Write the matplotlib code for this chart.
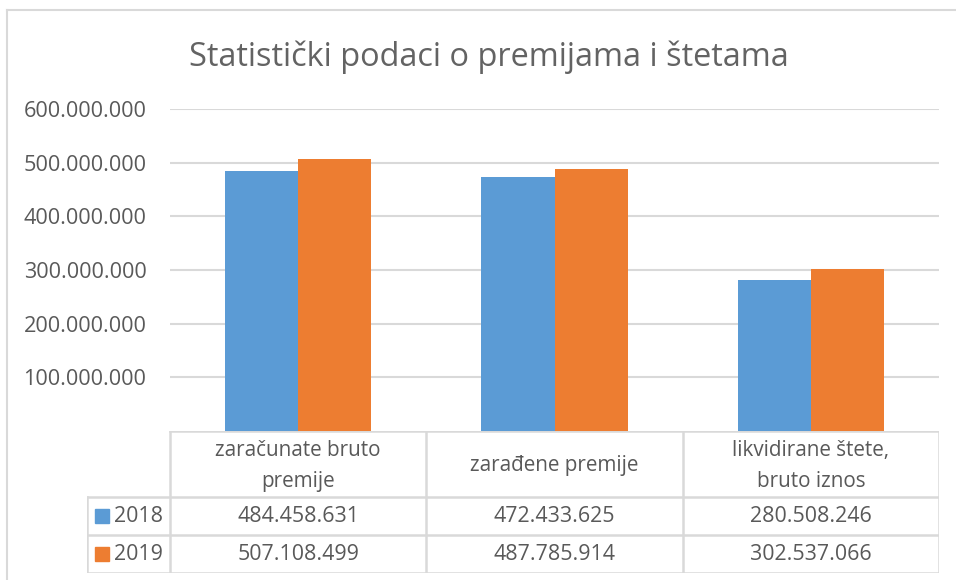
import matplotlib.pyplot as plt
from matplotlib.patches import Rectangle

plt.rcParams['font.family'] = ['Open Sans', 'DejaVu Sans']

kategorije = ["zaračunate bruto\npremije", "zarađene premije", "likvidirane štete,\nbruto iznos"]
godine = ["2018", "2019"]
v2018 = [484458631, 472433625, 280508246]
v2019 = [507108499, 487785914, 302537066]
boje = ["#5B9BD5", "#ED7D31"]
yticks = [100000000, 200000000, 300000000, 400000000, 500000000, 600000000]

W, H = 956, 580
siva = "#595959"
linija = "#D9D9D9"

def fmt(v):
    return "{:,}".format(v).replace(",", ".")

fig = plt.figure(figsize=(W/100, H/100), dpi=100)

# okvir grafikona
fig.add_artist(plt.Line2D([7/W, 7/W], [0, 1 - 10/H], color=linija, lw=1.5))
fig.add_artist(plt.Line2D([7/W, 1], [1 - 10/H, 1 - 10/H], color=linija, lw=1.5))

fig.text(489/W, 1 - 57/H, "Statistički podaci o premijama i štetama",
         ha="center", va="center", fontsize=23.4, color="#636363")

x0, x1 = 170, 939
ytop, ybot = 109, 431
ax = fig.add_axes([x0/W, 1 - ybot/H, (x1 - x0)/W, (ybot - ytop)/H])
n = len(kategorije)
sir = 0.286
for k in range(n):
    ax.bar(k - sir/2, v2018[k], width=sir, color=boje[0], zorder=2)
    ax.bar(k + sir/2, v2019[k], width=sir, color=boje[1], zorder=2)
ax.set_xlim(-0.5, n - 0.5)
ax.set_ylim(0, 600000000)
ax.set_yticks(yticks)
ax.set_yticklabels([fmt(t) for t in yticks], fontsize=15.6, color=siva)
ax.set_xticks([])
ax.tick_params(axis="y", length=0, pad=17)
ax.grid(axis="y", color=linija, lw=1.5, zorder=0)
for s in ax.spines.values():
    s.set_visible(False)

# tabela podataka
leg_w = 83
red_h = [66, 38, 38]
tx0 = x0 - leg_w
tab = fig.add_axes([tx0/W, 1 - (ybot + sum(red_h))/H, (x1 - tx0)/W, sum(red_h)/H])
kol = (x1 - x0) / n
tab.set_xlim(tx0, x1)
tab.set_ylim(ybot + sum(red_h), ybot)
tab.axis("off")

yb = [ybot, ybot + red_h[0], ybot + red_h[0] + red_h[1], ybot + sum(red_h)]
granice = [x0 + kol * k for k in range(n + 1)]
kw = dict(color=linija, lw=1.8, solid_capstyle="projecting")
tab.plot([x0, x1], [yb[0], yb[0]], **kw)
for y in yb[1:]:
    tab.plot([tx0, x1], [y, y], **kw)
for g in granice:
    tab.plot([g, g], [yb[0], yb[3]], **kw)
tab.plot([tx0, tx0], [yb[1], yb[3]], **kw)

for k in range(n):
    xc = (granice[k] + granice[k + 1]) / 2
    tab.text(xc, (yb[0] + yb[1]) / 2 + 2, kategorije[k], ha="center", va="center",
             fontsize=14.9, color=siva, linespacing=1.65)
    tab.text(xc, (yb[1] + yb[2]) / 2, fmt(v2018[k]), ha="center", va="center",
             fontsize=15.4, color=siva)
    tab.text(xc, (yb[2] + yb[3]) / 2, fmt(v2019[k]), ha="center", va="center",
             fontsize=15.4, color=siva)

for i, g in enumerate(godine):
    yc = (yb[i + 1] + yb[i + 2]) / 2
    tab.add_patch(Rectangle((tx0 + 8, yc - 7), 14, 14, color=boje[i]))
    tab.text(tx0 + 27, yc, g, ha="left", va="center", fontsize=15.4, color=siva)

fig.savefig("out.png", dpi=100)
